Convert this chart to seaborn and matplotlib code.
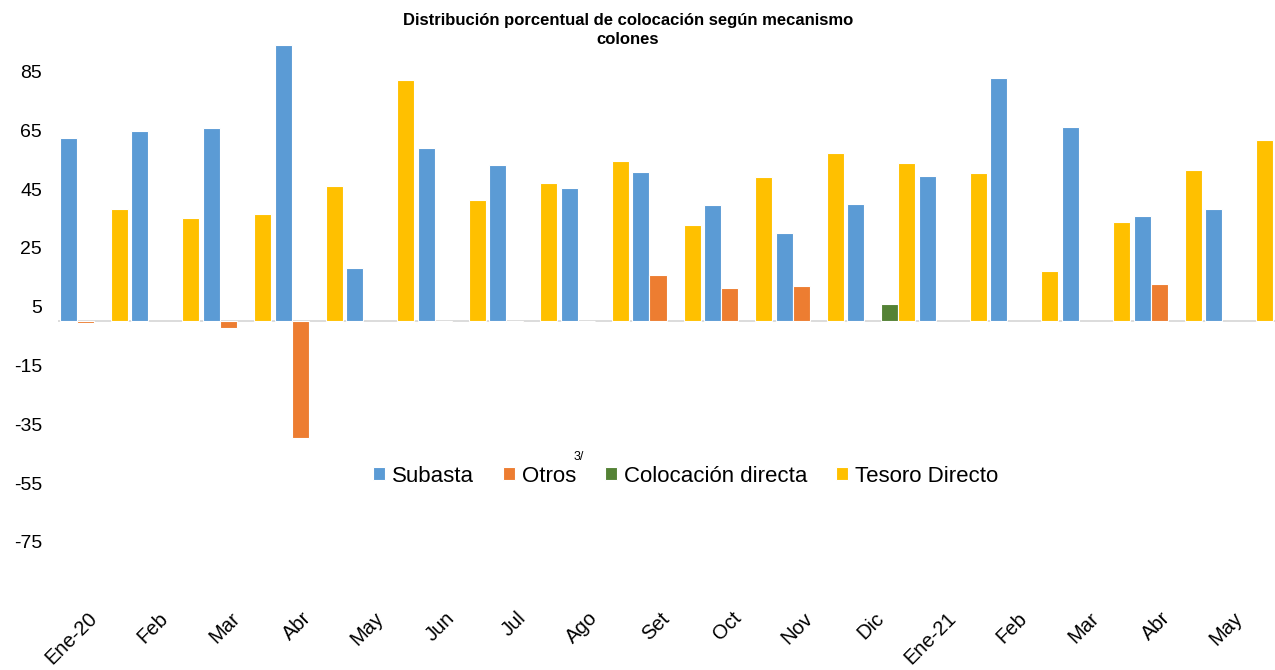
import numpy as np
import pandas as pd
import matplotlib
matplotlib.use("Agg")
import matplotlib.pyplot as plt
import seaborn as sns

nan = np.nan

months = ["Ene-20", "Feb", "Mar", "Abr", "May", "Jun", "Jul", "Ago", "Set",
          "Oct", "Nov", "Dic", "Ene-21", "Feb", "Mar", "Abr", "May"]
subasta = [62.5, 64.9, 65.9, 94.0, 18.0, 58.9, 53.1, 45.3, 50.8,
           39.6, 30.2, 40.1, 49.4, 82.7, 66.2, 35.8, 38.1]
otros = [-0.5, nan, -2.4, -39.7, nan, -0.3, -0.1, 0.3, 15.9,
         11.2, 12.1, nan, nan, nan, nan, 12.8, nan]
colocacion = [nan, nan, nan, nan, nan, nan, nan, nan, nan,
              nan, nan, 6.0, nan, nan, nan, nan, nan]
tesoro = [38.1, 35.3, 36.6, 46.0, 82.0, 41.3, 47.1, 54.5, 32.9,
          49.0, 57.4, 53.8, 50.6, 17.3, 33.8, 51.4, 61.8]

series_names = ["Subasta", "Otros", "Colocación directa", "Tesoro Directo"]
colors = ["#5B9BD5", "#ED7D31", "#548235", "#FFC000"]
yticks = [85, 65, 45, 25, 5, -15, -35, -55, -75]

sns.set_theme(style="white")
plt.rcParams['font.family'] = ['Liberation Sans', 'DejaVu Sans']
plt.rcParams['text.color'] = 'black'
plt.rcParams['xtick.color'] = 'black'
plt.rcParams['ytick.color'] = 'black'
plt.rcParams['axes.labelcolor'] = 'black'

keys = [f"{i:02d}" for i in range(len(months))]
rows = []
for name, vals in zip(series_names, [subasta, otros, colocacion, tesoro]):
    for k, v in zip(keys, vals):
        if not np.isnan(v):
            rows.append({"mes": k, "mecanismo": name, "valor": v})
df = pd.DataFrame(rows)

W, H = 1275, 670
fig = plt.figure(figsize=(W / 100, H / 100), dpi=100)
ax = fig.add_axes([58 / W, 1 - 600.7 / H, 1 - 58 / W, (600.7 - 42.1) / H])

sns.barplot(data=df, x="mes", y="valor", hue="mecanismo", order=keys,
            hue_order=series_names, palette=colors, saturation=1, width=0.95,
            errorbar=None, edgecolor="white", linewidth=0.8, ax=ax)

handles, labels = ax.get_legend_handles_labels()
if ax.get_legend() is not None:
    ax.get_legend().remove()

ax.axhline(0, color="#D9D9D9", lw=1.3, zorder=0.5)
ax.set_ylim(-95, 95)
ax.set_xlim(-0.5, len(months) - 0.5)
ax.set_yticks(yticks)
ax.set_yticklabels([str(t) for t in yticks], fontsize=14, color="black")
ax.set_xticks(range(len(months)))
ax.set_xticklabels(months, fontsize=14.5, rotation=45, ha="right", va="center",
                   rotation_mode="anchor", color="black")
ax.tick_params(axis="y", length=0, pad=11.5)
ax.tick_params(axis="x", length=0, pad=10.5)
ax.set_xlabel("")
ax.set_ylabel("")
for s in ax.spines.values():
    s.set_visible(False)

fig.text(628 / W, 1 - 20 / H, "Distribución porcentual de colocación según mecanismo",
         ha="center", va="center", fontsize=12, fontweight="bold", color="black")
fig.text(628 / W, 1 - 40 / H, "colones", ha="center", va="center",
         fontsize=12, fontweight="bold", color="black")

leg = fig.legend(handles, labels, loc="center", bbox_to_anchor=(685.5 / W, 1 - 476 / H),
                 ncol=4, frameon=False, fontsize=16, handlelength=0.55,
                 handleheight=0.55, handletextpad=0.3, columnspacing=1.3,
                 borderaxespad=0)
for t in leg.get_texts():
    t.set_color("black")
fig.text(579 / W, 1 - 457 / H, "3/", ha="center", va="center", fontsize=9,
         color="black")

fig.savefig("out.png", dpi=100)
